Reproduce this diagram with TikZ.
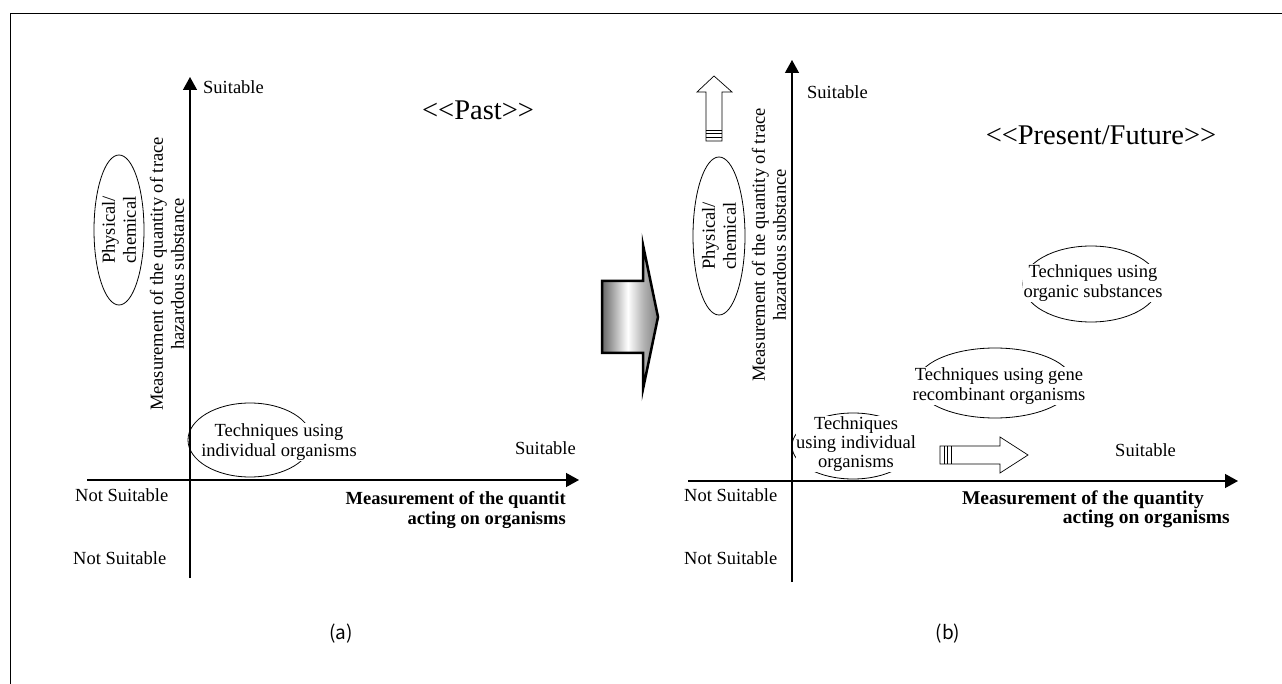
\documentclass[tikz,border=0pt]{standalone}
\usepackage{fontspec}
\setmainfont{Liberation Serif}
\newfontfamily\plainserif{Liberation Serif}
\newfontfamily\lblfont{Noto Sans CJK JP}
\usetikzlibrary{arrows.meta,shapes.geometric}
\pgfdeclarehorizontalshading{bigarrowshade}{100bp}{color(0bp)=(black!60); color(25bp)=(black!60); color(48bp)=(white); color(62bp)=(black!30); color(75bp)=(black!50); color(100bp)=(black!50)}
\begin{document}
\begin{tikzpicture}[x=1pt,y=-1pt,
  font=\fontsize{18.5}{20}\selectfont,
  axis/.style={line width=1.3pt,-{Triangle[length=13pt,width=14pt]}},
  lbl/.style={inner sep=0pt},
  ell/.style={draw,ellipse,line width=0.8pt,inner sep=0pt},
  etxt/.style={fill=white,align=center,inner sep=1pt},
  btxt/.style={inner sep=0pt,font=\fontsize{18.5}{20}\selectfont\bfseries},
  vtxt/.style={rotate=90,align=center,inner sep=0pt,font=\fontsize{18.5}{21}\selectfont},
  hollow/.style={draw,line width=0.7pt,fill=white},
  tag/.style={inner sep=0pt,font=\fontsize{19}{20}\lblfont},
  big/.style={inner sep=0pt,font=\fontsize{28.5}{30}\plainserif}]
\useasboundingbox (0,0) rectangle (1282,684);
% frame
\coordinate (F0) at (10,684);
\coordinate (F1) at (10,14);
\coordinate (F2) at (1282,14);
\draw[line width=1pt] (F0) -- (F1) -- (F2);

% ===== left panel =====
\coordinate (LX0) at (87,480);
\coordinate (LX1) at (579,480);
\coordinate (LY0) at (190,578);
\coordinate (LY1) at (190,77);
\node[ell,minimum width=124pt,minimum height=74pt] (LIe) at (250,440) {};
\node[etxt] (LIt) at (279,442) {Techniques using\\individual organisms};
\draw[axis] (LX0) -- (LX1);
\draw[axis] (LY0) -- (LY1);
\node[lbl,anchor=west] (LS1) at (203,87) {Suitable};
\node[lbl,anchor=west] (LS2) at (515,448) {Suitable};
\node[lbl,anchor=west] (LN1) at (75,495) {Not Suitable};
\node[lbl,anchor=west] (LN2) at (73,558) {Not Suitable};
\node[big] (LP) at (478,110) {<<Past>>};
\node[vtxt] (LV) at (167,274) {Measurement of the quantity of trace\\hazardous substance};
\node[ell,minimum width=50pt,minimum height=150pt] (LPe) at (119,230) {};
\node[vtxt] (LPt) at (119,230) {Physical/\\chemical};
\node[btxt,anchor=east] (LM1) at (566,500) {Measurement of the quantit};
\node[btxt,anchor=east] (LM2) at (566,520) {acting on organisms};
\node[tag] (La) at (341,634) {(a)};

% ===== big arrow =====
\path[shading=bigarrowshade,draw=black,line width=2.5pt,line join=miter]
  (602,281) -- (643,281) -- (643,245) -- (658,317) -- (643,389) -- (643,353) -- (602,353) -- cycle;

% ===== right panel =====
\coordinate (RX0) at (688,481);
\coordinate (RX1) at (1238,481);
\coordinate (RY0) at (792,582);
\coordinate (RY1) at (792,60);
\node[ell,minimum width=122pt,minimum height=66pt] (RIe) at (853,446) {};
\node[etxt,inner sep=0.5pt,font=\fontsize{18.5}{19}\selectfont] (RIt) at (856,444) {Techniques\\using individual\\organisms};
\node[ell,minimum width=156pt,minimum height=70pt] (RGe) at (995,383) {};
\node[etxt] (RGt) at (999,386) {Techniques using gene\\recombinant organisms};
\node[ell,minimum width=136pt,minimum height=76pt] (ROe) at (1091,284) {};
\node[etxt] (ROt) at (1093,283) {Techniques using\\organic substances};
\draw[axis] (RX0) -- (RX1);
\draw[axis] (RY0) -- (RY1);
\node[lbl,anchor=west] (RS1) at (807,92) {Suitable};
\node[lbl,anchor=west] (RS2) at (1115,450) {Suitable};
\node[lbl,anchor=west] (RN1) at (684,495) {Not Suitable};
\node[lbl,anchor=west] (RN2) at (684,558) {Not Suitable};
\node[big] (RP) at (1101,135) {<<Present/Future>>};
\node[vtxt] (RV) at (769,245) {Measurement of the quantity of trace\\hazardous substance};
\node[ell,minimum width=52pt,minimum height=158pt] (RPe) at (719,236) {};
\node[vtxt] (RPt) at (719,236) {Physical/\\chemical};
\node[btxt,anchor=east,font=\fontsize{19.5}{20}\selectfont\bfseries] (RM1) at (1204,500) {Measurement of the quantity};
\node[btxt,anchor=east,font=\fontsize{19.5}{20}\selectfont\bfseries] (RM2) at (1230,519) {acting on organisms};
\node[tag] (Rb) at (948,634) {(b)};

% hollow up arrow
\path[hollow] (706,141) -- (706,92) -- (697,92) -- (714,76) -- (732,92) -- (722,92) -- (722,141) -- cycle;
\draw[line width=0.7pt] (706,130) -- (722,130) (706,133.5) -- (722,133.5) (706,137) -- (722,137);
% hollow right arrow
\path[hollow] (940,446) -- (1000,446) -- (1000,437) -- (1028,455) -- (1000,473) -- (1000,464) -- (940,464) -- cycle;
\draw[line width=0.7pt] (944,446) -- (944,464) (947.5,446) -- (947.5,464) (951,446) -- (951,464);
\end{tikzpicture}
\end{document}
